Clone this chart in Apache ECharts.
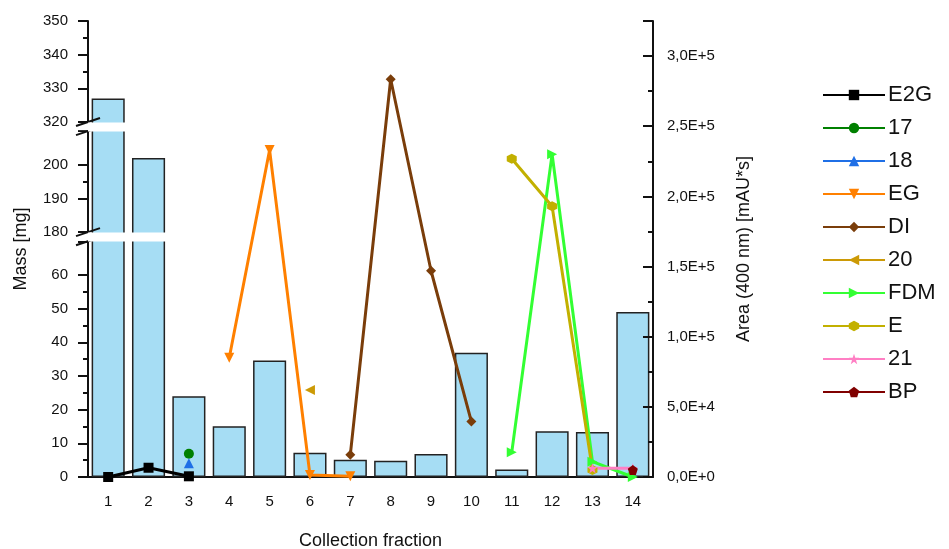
<!DOCTYPE html>
<html>
<head>
<meta charset="utf-8">
<script src="https://cdn.jsdelivr.net/npm/echarts@6/dist/echarts.min.js"></script>
<style>
  html, body { margin: 0; padding: 0; background: #fff; }
  #chart { width: 949px; height: 549px; }
</style>
</head>
<body>
<div id="chart"></div>
<script>
// collection fractions (x categories)
const fractions = ['1', '2', '3', '4', '5', '6', '7', '8', '9', '10', '11', '12', '13', '14']

// bars: collected mass per fraction [mg]
const massMg = [327, 202, 24, 15.1, 34.6, 7.2, 5.1, 4.8, 6.8, 36.9, 2.2, 13.6, 13.4, 49]

// peak areas at 400 nm [mAU*s], one array per compound
const areaE2G = [0, 6600, 500, null, null, null, null, null, null, null, null, null, null, null]
const area17  = [null, null, 16600, null, null, null, null, null, null, null, null, null, null, null]
const area18  = [null, null, 9800, null, null, null, null, null, null, null, null, null, null, null]
const areaEG  = [null, null, null, 85000, 233000, 1500, 500, null, null, null, null, null, null, null]
const areaDI  = [null, null, null, null, null, null, 15900, 283500, 147000, 39500, null, null, null, null]
const area20  = [null, null, null, null, null, 62000, null, null, null, null, null, null, null, null]
const areaFDM = [null, null, null, null, null, null, null, null, null, null, 17600, 230000, 10900, 0]
const areaE   = [null, null, null, null, null, null, null, null, null, null, 226800, 193000, 5000, null]
const area21  = [null, null, null, null, null, null, null, null, null, null, null, null, 6200, 6200]
const areaBP  = [null, null, null, null, null, null, null, null, null, null, null, null, null, 5000]

// broken mass axis: [start, end] of each break
const massBreaks = [[70, 180], [210, 320]]

const FONT = 'Liberation Sans'
const hexagon  = 'path://M50,0L93.3,25L93.3,75L50,100L6.7,75L6.7,25Z'
const star     = 'path://M50,0L61.8,35.4L97.6,35.4L68.8,57.3L79.4,92.7L50,70.8L20.6,92.7L31.2,57.3L2.4,35.4L38.2,35.4Z'
const pentagon = 'path://M50,0L97.6,34.5L79.4,90.5L20.6,90.5L2.4,34.5Z'

const lineDefs = [
  { name: 'E2G', data: areaE2G, color: '#000000', symbol: 'rect', rotate: 0 },
  { name: '17',  data: area17,  color: '#008000', symbol: 'circle', rotate: 0 },
  { name: '18',  data: area18,  color: '#1f6fe6', symbol: 'triangle', rotate: 0 },
  { name: 'EG',  data: areaEG,  color: '#ff8000', symbol: 'triangle', rotate: 180 },
  { name: 'DI',  data: areaDI,  color: '#7a3d0a', symbol: 'diamond', rotate: 0 },
  { name: '20',  data: area20,  color: '#cc9a06', symbol: 'triangle', rotate: 90 },
  { name: 'FDM', data: areaFDM, color: '#33ff33', symbol: 'triangle', rotate: -90 },
  { name: 'E',   data: areaE,   color: '#c2b000', symbol: hexagon, rotate: 0 },
  { name: '21',  data: area21,  color: '#ff7fc4', symbol: star, rotate: 0 },
  { name: 'BP',  data: areaBP,  color: '#800000', symbol: pentagon, rotate: 0 }
]

function sciComma(v) {
  if (v === 0) return '0,0E+0'
  const e = Math.floor(Math.log10(v))
  const m = v / Math.pow(10, e)
  return m.toFixed(1).replace('.', ',') + 'E+' + e
}

const chart = echarts.init(document.getElementById('chart'), null, { renderer: 'canvas' })

chart.setOption({
  backgroundColor: '#fff',
  animation: false,
  textStyle: { fontFamily: FONT },
  grid: { left: 88, right: 296, top: 21, bottom: 72, outerBoundsMode: 'none', containLabel: false },
  legend: {
    orient: 'vertical',
    left: 817,
    top: 79,
    itemWidth: 62,
    itemHeight: 13,
    itemGap: 11,
    textStyle: { fontFamily: FONT, fontSize: 22, color: '#111', padding: [0, 0, 0, -2] },
    data: lineDefs.map(d => d.name)
  },
  xAxis: [{
    type: 'category',
    data: fractions,
    name: 'Collection fraction',
    nameLocation: 'middle',
    nameGap: 55,
    nameTextStyle: { fontFamily: FONT, fontSize: 18, color: '#111' },
    axisLine: { lineStyle: { color: '#111', width: 2 } },
    axisTick: { alignWithLabel: true, length: 9, lineStyle: { color: '#111', width: 2 } },
    axisLabel: { margin: 17, fontFamily: FONT, fontSize: 15, color: '#111' }
  }, {
    // boundary ticks between fractions
    type: 'category',
    data: fractions,
    position: 'bottom',
    axisLine: { show: false },
    axisTick: { length: 4, lineStyle: { color: '#111', width: 2 } },
    axisLabel: { show: false }
  }],
  yAxis: [{
    type: 'value',
    min: 0,
    max: 350,
    interval: 10,
    name: 'Mass [mg]',
    nameLocation: 'middle',
    nameGap: 58,
    nameTextStyle: { fontFamily: FONT, fontSize: 18, color: '#111' },
    breaks: massBreaks.map(b => ({ start: b[0], end: b[1], gap: '2%' })),
    breakArea: {
      show: true,
      zigzagAmplitude: 0,
      itemStyle: { color: '#fff', borderWidth: 0, opacity: 1 }
    },
    axisLine: { show: true, lineStyle: { color: '#111', width: 2 } },
    axisTick: { show: true, length: 10, lineStyle: { color: '#111', width: 2 } },
    minorTick: { show: true, splitNumber: 2, length: 5, lineStyle: { color: '#111', width: 2 } },
    splitLine: { show: false },
    axisLabel: {
      margin: 20, fontFamily: FONT, fontSize: 15, color: '#111',
      formatter: v => (v === massBreaks[0][0] || v === massBreaks[1][0]) ? '' : String(v)
    }
  }, {
    type: 'value',
    min: 0,
    max: 325000,
    interval: 50000,
    position: 'right',
    zlevel: 1,
    name: 'Area (400 nm) [mAU*s]',
    nameLocation: 'middle',
    nameGap: 82,
    nameTextStyle: { fontFamily: FONT, fontSize: 18, color: '#111' },
    axisLine: { show: true, lineStyle: { color: '#111', width: 2 } },
    axisTick: { show: true, inside: true, length: 10, lineStyle: { color: '#111', width: 2 } },
    minorTick: { show: true, splitNumber: 2, length: 5, lineStyle: { color: '#111', width: 2 } },
    splitLine: { show: false },
    axisLabel: { margin: 14, showMaxLabel: false, fontFamily: FONT, fontSize: 15, color: '#111', formatter: sciComma }
  }],
  series: [{
    type: 'bar',
    name: 'Mass',
    yAxisIndex: 0,
    data: massMg,
    barCategoryGap: '18%',
    itemStyle: { color: '#a6ddf4', borderColor: '#222', borderWidth: 1.5 },
    z: 1
  }].concat(lineDefs.map(d => ({
    type: 'line',
    name: d.name,
    yAxisIndex: 1,
    data: d.data,
    connectNulls: false,
    symbol: d.symbol,
    symbolRotate: d.rotate,
    symbolSize: 10,
    showAllSymbol: true,
    lineStyle: { color: d.color, width: 3 },
    itemStyle: { color: d.color },
    zlevel: 1,
    z: 10
  })))
})

// "//" break marks on the left axis, placed at the break edges
const axisX = chart.getModel().getComponent('grid').coordinateSystem.getRect().x
const marks = []
massBreaks.forEach(b => {
  const yTop = chart.convertToPixel({ yAxisIndex: 0 }, b[1])
  const yBot = chart.convertToPixel({ yAxisIndex: 0 }, b[0])
  marks.push({ type: 'rect', shape: { x: axisX - 12, y: yTop + 1, width: 16, height: yBot - yTop - 2 }, style: { fill: '#fff' }, z: 20 })
  ;[yTop, yBot].forEach(y => {
    marks.push({ type: 'line', shape: { x1: axisX - 12, y1: y + 4, x2: axisX + 12, y2: y - 4 }, style: { stroke: '#111', lineWidth: 2 }, z: 21 })
  })
})
chart.setOption({ graphic: marks })
</script>
</body>
</html>
